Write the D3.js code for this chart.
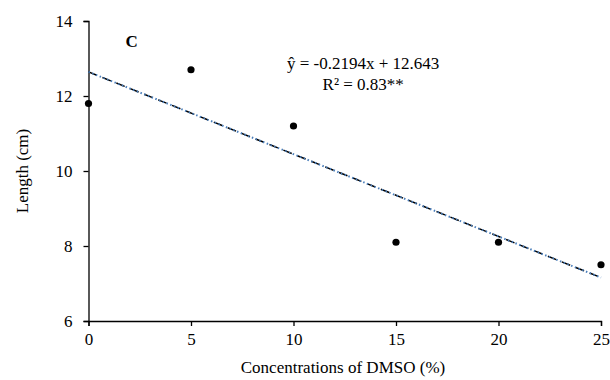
<!DOCTYPE html>
<html>
<head>
<meta charset="utf-8">
<script src="https://cdn.jsdelivr.net/npm/d3@7"></script>
<style>
  body { margin: 0; background: #fff; }
  text { font-family: "Liberation Serif", "Times New Roman", serif; fill: #000; }
</style>
</head>
<body>
<div id="chart"></div>
<script>
// data
var concentrations = [0, 5, 10, 15, 20, 25];
var lengths = [11.8, 12.7, 11.2, 8.1, 8.1, 7.5];
var xTicks = [0, 5, 10, 15, 20, 25];
var yTicks = [6, 8, 10, 12, 14];
var slope = -0.2194, intercept = 12.643;

var width = 610, height = 380;
var margin = { top: 21, right: 9, bottom: 59, left: 88.5 };

var svg = d3.select("#chart").append("svg")
    .attr("width", width)
    .attr("height", height);

var g = svg.append("g")
    .attr("transform", "translate(" + margin.left + "," + margin.top + ")");

var w = width - margin.left - margin.right,
    h = height - margin.top - margin.bottom;

var x = d3.scaleLinear().domain([0, 25]).range([0, w]);
var y = d3.scaleLinear().domain([6, 14]).range([h, 0]);

// axes
var xAxis = d3.axisBottom(x).tickValues(xTicks).tickSize(5).tickPadding(7);
var yAxis = d3.axisLeft(y).tickValues(yTicks).tickSize(5).tickPadding(11);

var gx = g.append("g")
    .attr("transform", "translate(0," + h + ")")
    .call(xAxis);
var gy = g.append("g").call(yAxis);

[gx, gy].forEach(function(a) {
    a.select(".domain").attr("stroke", "#000").attr("stroke-width", 1.3);
    a.selectAll(".tick line").attr("stroke", "#000").attr("stroke-width", 1.3);
    a.selectAll("text").style("font-size", "17px").attr("fill", "#000")
        .style("font-family", "'Liberation Serif', serif");
});

// trend line: black dashes with blue dots over it
var line = d3.line()
    .x(function(d) { return x(d); })
    .y(function(d) { return y(slope * d + intercept); });

g.append("path")
    .datum([0, 25])
    .attr("d", line)
    .attr("fill", "none")
    .attr("stroke", "#000")
    .attr("stroke-width", 1.5)
    .attr("stroke-dasharray", "9,6");

g.append("path")
    .datum([0, 25])
    .attr("d", line)
    .attr("fill", "none")
    .attr("stroke", "#4a7ebb")
    .attr("stroke-width", 2)
    .attr("stroke-dasharray", "1.5,2.5");

// points
g.selectAll(".dot")
    .data(concentrations)
    .enter().append("circle")
    .attr("class", "dot")
    .attr("cx", function(d) { return x(d); })
    .attr("cy", function(d, i) { return y(lengths[i]); })
    .attr("r", 3.6)
    .attr("fill", "#000");

// annotations
g.append("text")
    .attr("x", x(1.8))
    .attr("y", 26)
    .style("font-size", "17px")
    .style("font-weight", "bold")
    .text("C");

g.append("text")
    .attr("x", x(13.4))
    .attr("y", 48)
    .attr("text-anchor", "middle")
    .style("font-size", "17px")
    .text("ŷ = -0.2194x + 12.643");

g.append("text")
    .attr("x", x(13.4))
    .attr("y", 69)
    .attr("text-anchor", "middle")
    .style("font-size", "17px")
    .text("R² = 0.83**");

// axis titles
svg.append("text")
    .attr("x", 343)
    .attr("y", 373)
    .attr("text-anchor", "middle")
    .style("font-size", "17px")
    .text("Concentrations of DMSO (%)");

svg.append("text")
    .attr("transform", "translate(28," + (margin.top + h / 2) + ") rotate(-90)")
    .attr("text-anchor", "middle")
    .style("font-size", "17px")
    .text("Length (cm)");
</script>
</body>
</html>
